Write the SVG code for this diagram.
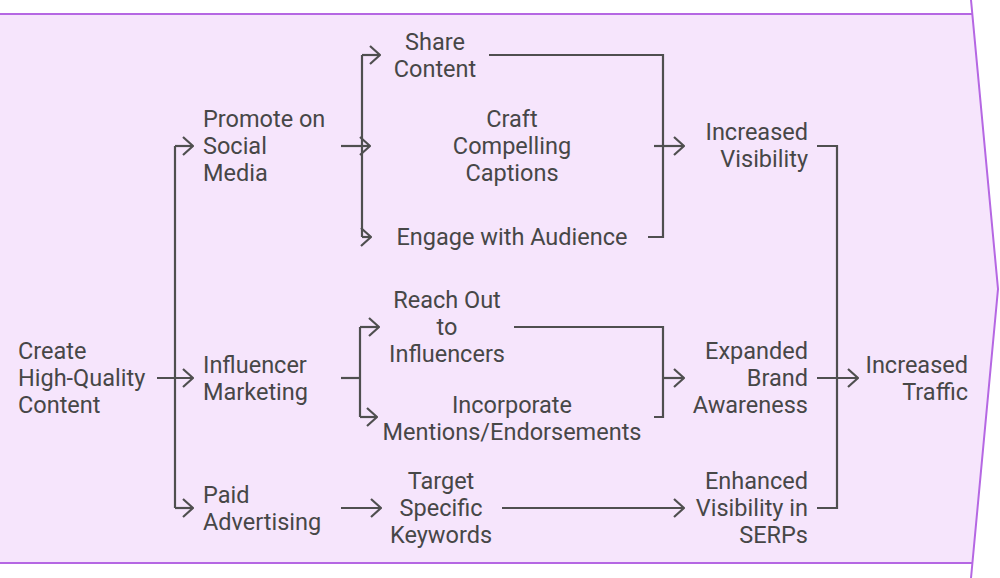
<svg xmlns="http://www.w3.org/2000/svg" width="1000" height="578" viewBox="0 0 1000 578">
<defs>
<style>
text{font-family:Roboto,"Liberation Sans",sans-serif;font-size:23.5px;fill:#474747}
.l{text-anchor:start}.m{text-anchor:middle}.r{text-anchor:end}
.c{fill:none;stroke:#4f4f4f;stroke-width:2.2;stroke-linejoin:miter}
.a{marker-end:url(#ah)}
</style>
<marker id="ah" viewBox="0 0 12 20" refX="11" refY="10" markerWidth="12" markerHeight="20" markerUnits="userSpaceOnUse" orient="auto">
<path d="M1,1 L11,10 L1,19" fill="none" stroke="#4f4f4f" stroke-width="2.2"/>
</marker>
</defs>
<rect width="1000" height="578" fill="#ffffff"/>
<g id="background">
<polygon points="0,14 972,14 998,289 972,563 0,563" fill="#f6e5fc"/>
<path d="M0,14 H972 M971,0 L998,289 L971,578 M0,563 H972" fill="none" stroke="#b567e3" stroke-width="2"/>
</g>
<g id="connectors">
<path class="c a" d="M157,378 H193"/>
<path class="c" d="M175,146 V508"/>
<path class="c a" d="M175,146 H193"/>
<path class="c a" d="M175,508 H193"/>
<path class="c a" d="M341,146 H370"/>
<path class="c" d="M362,55 V237"/>
<path class="c a" d="M362,55 H380"/>
<path class="c a" d="M362,237 H371"/>
<path class="c" d="M489,55 H663 V237 H648"/>
<path class="c a" d="M654,146 H684"/>
<path class="c" d="M817,146 H837 V508 H817"/>
<path class="c a" d="M817,378 H858"/>
<path class="c" d="M341,378 H360"/>
<path class="c" d="M360,327 V417"/>
<path class="c a" d="M360,327 H379"/>
<path class="c a" d="M360,417 H377"/>
<path class="c" d="M514,327 H663 V417 H654"/>
<path class="c a" d="M663,378 H684"/>
<path class="c a" d="M341,508 H381"/>
<path class="c a" d="M502,508 H684"/>
</g>
<g id="create"><text class="l" x="18"><tspan x="18" y="359">Create</tspan><tspan x="18" y="386">High-Quality</tspan><tspan x="18" y="413">Content</tspan></text></g>
<g id="promote"><text class="l"><tspan x="203" y="127">Promote on</tspan><tspan x="203" y="154">Social</tspan><tspan x="203" y="181">Media</tspan></text></g>
<g id="influencer"><text class="l"><tspan x="203" y="373">Influencer</tspan><tspan x="203" y="400">Marketing</tspan></text></g>
<g id="paid"><text class="l"><tspan x="203" y="503">Paid</tspan><tspan x="203" y="530">Advertising</tspan></text></g>
<g id="share"><text class="m"><tspan x="435" y="50">Share</tspan><tspan x="435" y="77">Content</tspan></text></g>
<g id="craft"><text class="m"><tspan x="512" y="127">Craft</tspan><tspan x="512" y="154">Compelling</tspan><tspan x="512" y="181">Captions</tspan></text></g>
<g id="engage"><text class="m"><tspan x="512" y="245">Engage with Audience</tspan></text></g>
<g id="reach"><text class="m"><tspan x="447" y="308">Reach Out</tspan><tspan x="447" y="335">to</tspan><tspan x="447" y="362">Influencers</tspan></text></g>
<g id="incorporate"><text class="m"><tspan x="512" y="413">Incorporate</tspan><tspan x="512" y="440">Mentions/Endorsements</tspan></text></g>
<g id="target"><text class="m"><tspan x="441" y="489">Target</tspan><tspan x="441" y="516">Specific</tspan><tspan x="441" y="543">Keywords</tspan></text></g>
<g id="visibility"><text class="r"><tspan x="808" y="140">Increased</tspan><tspan x="808" y="167">Visibility</tspan></text></g>
<g id="brand"><text class="r"><tspan x="808" y="359">Expanded</tspan><tspan x="808" y="386">Brand</tspan><tspan x="808" y="413">Awareness</tspan></text></g>
<g id="serps"><text class="r"><tspan x="808" y="489">Enhanced</tspan><tspan x="808" y="516">Visibility in</tspan><tspan x="808" y="543">SERPs</tspan></text></g>
<g id="traffic"><text class="r"><tspan x="968" y="373">Increased</tspan><tspan x="968" y="400">Traffic</tspan></text></g>
</svg>
